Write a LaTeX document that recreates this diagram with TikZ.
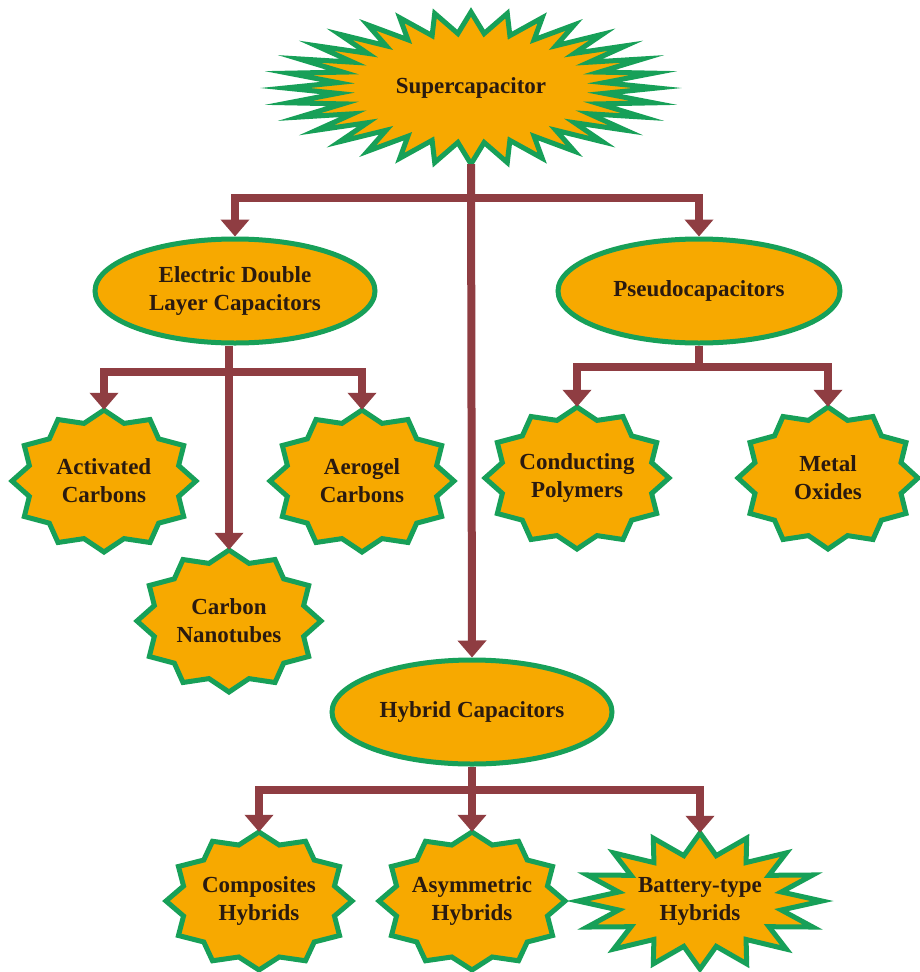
\documentclass[tikz,border=0pt]{standalone}
\usepackage{fontspec}
\setmainfont{Liberation Serif}[BoldFont={Liberation Serif Bold}]
\newfontfamily\lblfont{Liberation Serif Bold}
\usetikzlibrary{arrows.meta,shapes.geometric}
\definecolor{orng}{HTML}{F7A900}
\definecolor{grn}{HTML}{17A058}
\definecolor{brn}{HTML}{8F3D42}
\definecolor{txtc}{HTML}{2A1A10}
\newcommand\starpath[6]{%
  \filldraw[starst] ({#1},{#2-#4}) \foreach \i in {1,...,#5}{ -- ({#1+#6*#3*cos(-90+(\i-0.5)*360/#5)},{#2+#6*#4*sin(-90+(\i-0.5)*360/#5)}) -- ({#1+#3*cos(-90+\i*360/#5)},{#2+#4*sin(-90+\i*360/#5)}) } -- cycle;
}
\tikzset{
  starst/.style={fill=orng,draw=grn,line width=5pt,line join=miter,miter limit=25},
  lbl/.style={text=txtc,font=\lblfont\fontsize{23}{28}\selectfont,align=center,inner sep=0pt},
  ell/.style={lbl,ellipse,fill=orng,draw=grn,line width=5pt},
  lnk/.style={draw=brn,line width=8pt},
  conn/.style={lnk,-{Triangle[width=28pt,length=17pt]}},
}
\begin{document}
\begin{tikzpicture}[x=1pt,y=-1pt]
\useasboundingbox[fill=white] (0,0) rectangle (919,972);
% stars
\starpath{471}{88}{186}{76}{32}{0.72}
\node[lbl,minimum width=372pt,minimum height=152pt] (super) at (471,88) {Supercapacitor};
\starpath{104}{481}{92}{71}{12}{0.84}
\node[lbl,minimum width=184pt,minimum height=142pt] (act) at (104,481) {Activated\\Carbons};
\starpath{362}{481}{92}{71}{12}{0.84}
\node[lbl,minimum width=184pt,minimum height=142pt] (aer) at (362,481) {Aerogel\\Carbons};
\starpath{229}{621}{92}{71}{12}{0.84}
\node[lbl,minimum width=184pt,minimum height=142pt] (cnt) at (229,621) {Carbon\\Nanotubes};
\starpath{577}{478}{92}{71}{12}{0.84}
\node[lbl,minimum width=184pt,minimum height=142pt] (cond) at (577,478) {Conducting\\Polymers};
\starpath{828}{478}{90}{71}{12}{0.84}
\node[lbl,minimum width=180pt,minimum height=142pt] (metal) at (828,478) {Metal\\Oxides};
\starpath{259}{901}{93}{69}{12}{0.84}
\node[lbl,minimum width=186pt,minimum height=138pt] (comp) at (259,901) {Composites\\Hybrids};
\starpath{472}{901}{93}{69}{12}{0.84}
\node[lbl,minimum width=186pt,minimum height=138pt] (asym) at (472,901) {Asymmetric\\Hybrids};
\starpath{700}{901}{122}{68}{16}{0.68}
\node[lbl,minimum width=244pt,minimum height=136pt] (batt) at (700,901) {Battery-type\\Hybrids};
% ellipses
\node[ell,minimum width=280pt,minimum height=104pt] (edlc) at (235,291) {Electric Double\\Layer Capacitors};
\node[ell,minimum width=282pt,minimum height=104pt] (pseudo) at (699,291) {Pseudocapacitors};
\node[ell,minimum width=280pt,minimum height=104pt] (hyb) at (472,712) {Hybrid Capacitors};
% connectors
\coordinate (b1) at (471,198);
\coordinate (b2) at (229,372);
\coordinate (b3) at (699,367);
\coordinate (b4) at (472,790);
\draw[conn] (super.south) -- (hyb.north);
\draw[conn] (b1) -| (edlc.north);
\draw[conn] (b1) -| (pseudo.north);
\draw[conn] (cnt.north |- edlc.south) -- (cnt.north);
\draw[conn] (b2) -| (act.north);
\draw[conn] (b2) -| (aer.north);
\draw[lnk] (pseudo.south) -- (b3);
\draw[conn] (b3) -| (cond.north);
\draw[conn] (b3) -| (metal.north);
\draw[lnk] (hyb.south) -- (b4);
\draw[conn] (b4) -| (comp.north);
\draw[conn] (b4) -- (asym.north);
\draw[conn] (b4) -| (batt.north);
\end{tikzpicture}
\end{document}
